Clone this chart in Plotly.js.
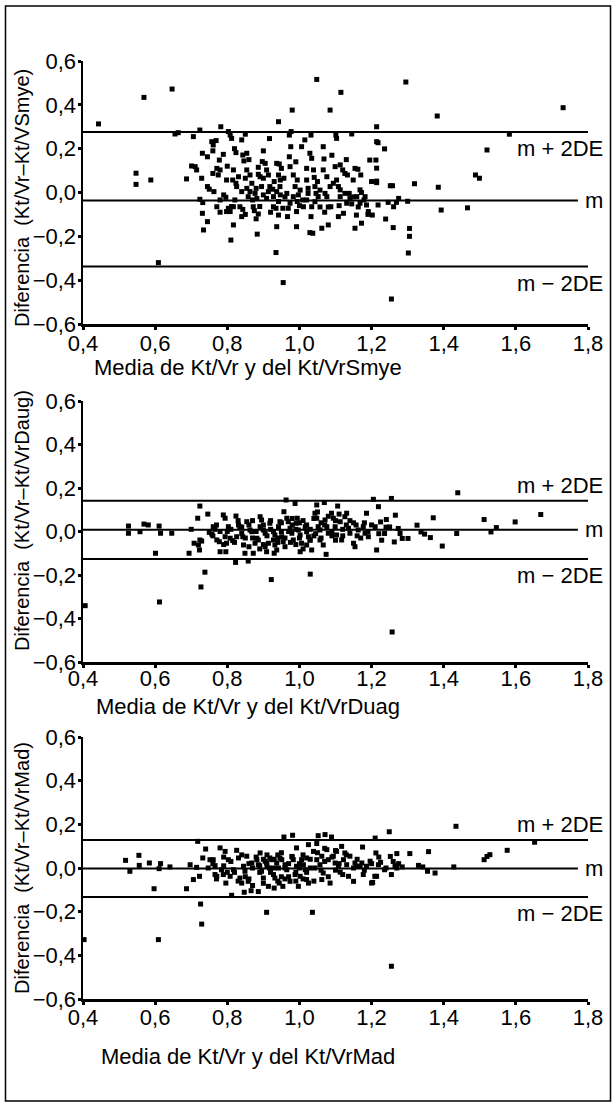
<!DOCTYPE html>
<html>
<head>
<meta charset="utf-8">
<script src="https://cdn.plot.ly/plotly-3.0.1.min.js"></script>
<style>
html,body{margin:0;padding:0;background:#fff;}
#chart{width:612px;height:1102px;}
</style>
</head>
<body>
<div id="chart"></div>
<script>
// ---------- data ----------
const xTickVals = [0.4, 0.6, 0.8, 1.0, 1.2, 1.4, 1.6, 1.8];
const xTickText = ["0,4", "0,6", "0,8", "1,0", "1,2", "1,4", "1,6", "1,8"];
const yTickVals = [-0.6, -0.4, -0.2, 0.0, 0.2, 0.4, 0.6];
const yTickText = ["\u22120,6", "\u22120,4", "\u22120,2", "0,0", "0,2", "0,4", "0,6"];

const xTitles = ["Media de Kt/Vr y del Kt/VrSmye", "Media de Kt/Vr y del Kt/VrDuag", "Media de Kt/Vr y del Kt/VrMad"];
const yTitles = ["Diferencia  (Kt/Vr\u2013Kt/VSmye)", "Diferencia  (Kt/Vr\u2013Kt/VrDaug)", "Diferencia  (Kt/Vr\u2013Kt/VrMad)"];
const lineLabels = ["m + 2DE", "m", "m \u2212 2DE"];

// [mean, mean+2DE, mean-2DE]
const smyeStats = [-0.036, 0.276, -0.338];
const daugStats = [0.008, 0.141, -0.127];
const madStats  = [-0.002, 0.128, -0.133];

const smyeX = [0.443,0.569,0.647,0.655,0.664,0.547,0.547,0.588,0.609,0.687,0.706,0.724,0.701,0.711,0.715,0.729,0.731,0.745,0.724,0.732,
0.731,0.745,0.734,0.745,0.75,0.763,0.757,0.769,0.761,0.782,0.789,0.778,0.76,0.79,0.796,0.798,0.812,0.817,0.81,0.803,
0.808,0.812,0.815,0.824,0.826,0.821,0.84,0.824,0.843,0.854,0.85,0.835,0.843,0.85,0.846,0.854,0.85,0.854,0.858,0.87,
0.872,0.875,0.883,0.886,0.89,0.886,0.886,0.891,0.88,0.895,0.897,0.905,0.909,0.9,0.914,0.917,0.909,0.918,0.926,0.928,
0.935,0.937,0.942,0.937,0.944,0.942,0.947,0.937,0.947,0.942,0.935,0.942,0.954,0.955,0.967,0.969,0.974,0.972,0.976,0.977,
0.972,0.98,0.983,0.988,0.994,0.997,0.994,0.992,0.992,1.009,1.006,1.015,1.02,1.024,1.024,1.029,1.034,1.032,1.032,1.029,
1.037,1.039,1.041,1.043,1.046,1.048,1.052,1.057,1.062,1.066,1.068,1.071,1.076,1.08,1.08,1.085,1.087,1.094,1.099,1.101,
1.103,1.108,1.113,1.108,1.115,1.113,1.12,1.122,1.126,1.133,1.138,1.14,1.145,1.145,1.149,1.154,1.162,1.154,1.158,1.163,
1.168,1.172,1.172,1.179,1.186,1.195,1.202,1.214,1.214,1.212,1.214,1.214,1.218,1.218,1.236,1.214,1.239,1.252,1.258,1.246,
1.261,1.255,1.26,1.269,1.275,1.295,1.3,1.305,1.305,1.302,1.319,1.382,1.385,1.393,1.466,1.488,1.499,1.52,1.582,1.731,
0.771,0.780,0.775,0.798,0.817,0.831,0.840,0.863,0.868,0.877,0.863,0.882,0.9,0.914,0.928,0.946,0.957,0.965,0.974,0.983,
1.002,1.011,1.02,1.034,1.043,1.057,1.066,1.076,1.085,1.103,1.113,1.126,1.131,1.159,1.168,1.182,1.191,0.803,0.808,0.817,
0.771,0.78,0.76,0.78,0.8,0.82,0.84,0.86,0.88,0.9,0.92,0.93,0.95,0.96,0.99,1.0,1.02,1.05,1.07,1.09,
1.11,1.13,1.15,1.17,1.19,1.2];
const smyeY = [0.313,0.434,0.472,0.267,0.273,0.088,0.037,0.057,-0.32,0.062,0.255,0.285,0.121,0.118,0.103,0.065,0.179,0.163,-0.031,-0.046,
-0.095,-0.133,-0.171,0.027,0.015,0.004,0.232,0.237,0.217,0.30,0.174,0.148,0.087,-0.011,-0.022,-0.087,-0.064,-0.148,-0.217,0.278,
0.262,0.247,0.057,0.042,0.027,-0.034,0.24,0.182,0.171,0.179,0.266,-0.065,-0.077,-0.1,0.144,0.103,0.065,0.019,-0.019,-0.034,
-0.065,-0.083,-0.19,-0.098,-0.064,0.115,0.083,0.072,0.019,0.027,0.141,0.133,0.103,0.065,0.08,0.246,-0.027,0.027,0.015,-0.019,
-0.274,-0.156,0.323,0.133,0.13,0.08,0.057,0.004,-0.011,-0.041,-0.072,-0.103,-0.072,-0.411,-0.11,-0.072,0.118,0.163,0.209,0.278,
0.262,0.376,0.08,0.027,0.057,-0.011,-0.041,-0.087,-0.156,-0.034,0.209,0.24,0.057,0.019,-0.004,0.179,0.156,0.262,-0.11,-0.183,
-0.186,0.103,0.069,0.027,-0.004,0.516,-0.019,-0.066,-0.163,0.209,0.153,-0.004,-0.019,-0.066,-0.148,0.376,-0.065,0.042,0.118,0.262,
0.247,0.027,0.012,-0.11,0.457,0.126,0.103,-0.095,0.087,0.08,-0.004,-0.027,-0.052,0.267,0.057,0.11,0.106,-0.163,-0.103,-0.066,
0.012,0,-0.14,-0.034,-0.057,0.148,-0.103,0.3,0.232,0.148,0.111,0.045,-0.057,0.227,0.199,0.052,-0.121,0.031,0.031,-0.045,
-0.065,-0.486,-0.16,-0.045,-0.027,0.504,-0.04,-0.164,-0.2,-0.276,0.04,0.349,0.024,-0.08,-0.07,0.08,0.065,0.194,0.266,0.387,
0.110,0.103,0.080,0.057,0.103,0.072,0.004,0.080,0.042,-0.004,0.004,-0.027,-0.011,0.004,-0.065,0.027,0.065,-0.004,-0.049,-0.019,
0.011,-0.065,-0.034,-0.065,-0.042,0.011,0.103,0.072,0.027,0.057,-0.019,-0.004,-0.049,-0.019,-0.049,-0.019,-0.087,-0.072,-0.087,-0.065,
-0.065,-0.034,0.19,-0.09,0.12,0.2,-0.11,0.15,-0.12,0.19,-0.09,0.05,0.11,-0.02,0.14,-0.06,0.11,0.05,-0.09,0.17,
-0.06,0.15,-0.02,0.08,-0.1,0.05];

const daugX = [0.526,0.526,0.558,0.569,0.581,0.601,0.611,0.615,0.646,0.694,0.7,0.708,0.72,0.723,0.724,0.724,0.729,0.718,0.746,0.75,
0.757,0.761,0.766,0.771,0.778,0.78,0.789,0.794,0.794,0.798,0.796,0.803,0.808,0.815,0.824,0.823,0.826,0.831,0.835,0.84,
0.843,0.845,0.849,0.854,0.858,0.863,0.868,0.872,0.877,0.882,0.886,0.891,0.891,0.895,0.9,0.905,0.905,0.909,0.914,0.918,
0.928,0.932,0.928,0.932,0.937,0.942,0.946,0.951,0.955,0.957,0.963,0.965,0.969,0.974,0.979,0.983,0.988,0.991,0.994,0.997,
1.002,1.002,1.006,1.016,1.02,1.02,1.025,1.029,1.034,1.043,1.048,1.048,1.052,1.057,1.057,1.066,1.069,1.071,1.076,1.08,
1.074,1.089,1.094,1.099,1.103,1.106,1.113,1.117,1.126,1.131,1.136,1.14,1.15,1.154,1.157,1.163,1.177,1.182,1.186,1.191,
1.205,1.21,1.214,1.219,1.255,1.225,1.241,1.266,1.25,1.236,1.228,1.263,1.274,1.279,1.285,1.301,1.326,1.337,1.347,1.363,
1.371,1.396,1.436,1.439,1.512,1.531,1.546,1.598,1.669,1.257,1.03,0.922,0.738,0.727,0.612,0.406,
0.78,0.81,0.86,0.87,0.9,0.92,0.95,0.96,0.98,1.01,1.03,1.04,1.06,1.09,1.1,1.12,1.15,1.17,0.99,0.94,
0.76,0.77,0.79,0.8,0.82,0.83,0.84,0.85,0.86,0.87,0.88,0.89,0.9,0.91,0.92,0.93,0.94,0.95,0.96,0.97,
0.975,0.98,0.99,1.0,1.0,1.01,1.02,1.03,1.04,1.045,1.05,1.06,1.07,1.08,1.09,1.1,1.11,1.12,1.13,1.14,
1.16,1.18,1.19,1.2,1.22,1.24];
const daugY = [0.025,-0.008,-0.001,0.034,0.030,-0.1,0.025,-0.008,-0.008,-0.1,0.01,-0.054,-0.062,-0.085,0.117,-0.039,-0.044,0.061,0.08,-0.004,
-0.012,0.022,0.01,-0.039,-0.047,-0.093,0.076,0.061,-0.024,-0.054,-0.093,0.022,-0.031,-0.042,0.071,-0.142,-0.024,0.030,0.022,-0.008,
-0.024,-0.062,-0.1,0.045,-0.136,0.007,-0.001,-0.1,-0.054,-0.031,-0.039,0.022,0.068,0.053,0.007,-0.008,-0.07,-0.093,-0.054,0.038,
-0.001,-0.016,-0.039,-0.062,-0.085,0.022,0.045,-0.024,-0.047,0.091,0.145,0.061,0.045,0.015,-0.008,-0.039,0.129,0.038,0.061,0.007,
-0.016,-0.093,-0.054,0.022,-0.001,-0.062,-0.024,-0.039,-0.085,0.084,0.122,0.061,0.022,0.007,-0.039,-0.062,0.133,0.053,0.022,-0.008,
-0.105,0.084,0.061,0.022,-0.016,0.117,0.045,-0.039,0.068,0.084,0.015,-0.008,-0.054,-0.07,0.030,0.007,0.022,-0.008,0.084,-0.024,
0.148,0.022,-0.085,0.114,0.152,0.044,0.055,0.075,0.021,-0.009,-0.04,-0.048,0.014,-0.009,-0.032,-0.032,0.029,-0.002,-0.012,-0.028,
0.063,-0.067,-0.009,0.178,0.055,-0.002,0.018,0.044,0.078,-0.462,-0.196,-0.221,-0.187,-0.255,-0.324,-0.341,
0.0,0.01,0.03,-0.03,-0.06,0.01,0.0,-0.03,0.03,0.05,0.01,-0.02,0.04,-0.02,0.05,0.01,0.04,-0.03,-0.06,-0.05,
-0.02,0.03,-0.06,0.0,-0.05,0.05,0.02,-0.03,-0.07,0.05,0.0,-0.08,0.03,-0.02,0.05,-0.1,-0.03,0.04,-0.07,0.0,
-0.05,0.06,0.01,-0.03,0.04,-0.08,0.03,-0.04,0.06,-0.01,0.09,-0.03,0.03,0.07,0.0,-0.04,0.08,-0.02,0.03,0.05,
-0.02,0.04,0.0,0.03,-0.01,0.02];

const madX = [0.518,0.53,0.555,0.556,0.584,0.597,0.609,0.611,0.615,0.641,0.687,0.697,0.706,0.718,0.715,0.723,0.726,0.729,0.732,0.74,
0.747,0.752,0.761,0.766,0.766,0.771,0.78,0.784,0.789,0.794,0.796,0.803,0.808,0.812,0.817,0.826,0.831,0.835,0.84,0.845,
0.849,0.847,0.854,0.858,0.866,0.868,0.882,0.886,0.886,0.891,0.895,0.9,0.905,0.909,0.909,0.914,0.917,0.918,0.923,0.928,
0.932,0.93,0.937,0.942,0.944,0.946,0.951,0.954,0.957,0.96,0.965,0.974,0.981,0.979,0.983,0.988,0.992,0.992,0.997,1.002,
1.006,1.011,1.016,1.02,1.025,1.025,1.02,1.036,1.039,1.043,1.048,1.048,1.052,1.057,1.062,1.062,1.066,1.071,1.076,1.08,
1.085,1.089,1.094,1.099,1.103,1.108,1.113,1.117,1.122,1.126,1.131,1.136,1.14,1.15,1.154,1.159,1.168,1.173,1.177,1.175,
1.186,1.196,1.2,1.21,1.212,1.214,1.219,1.249,1.434,1.652,1.576,1.512,1.52,1.528,1.428,1.358,1.306,1.33,1.342,1.355,
1.376,1.27,1.252,1.26,1.265,1.27,1.275,1.285,1.255,1.236,1.225,1.203,1.209,1.255,0.403,
0.87,0.89,0.91,0.93,0.95,0.97,0.99,1.0,1.01,1.03,0.86,0.82,0.79,1.07,1.1,0.96,0.9,0.94,
0.76,0.77,0.79,0.8,0.81,0.83,0.84,0.85,0.86,0.87,0.88,0.89,0.9,0.91,0.92,0.93,0.94,0.95,0.96,0.97,
0.98,0.99,1.0,1.01,1.02,1.03,1.04,1.05,1.06,1.07,1.08,1.09,1.1,1.11,1.12,1.13,1.15,1.16,1.18,1.2,
1.22,1.24];
const madY = [0.035,-0.015,0.058,0.012,0.023,-0.095,-0.328,-0.003,0.02,0.005,-0.095,0.015,-0.053,0.122,0.003,-0.038,-0.165,-0.257,0.046,0.087,
0.0,0.038,0.038,0.011,-0.03,-0.038,0.092,-0.008,-0.03,0.076,-0.069,0.038,-0.038,-0.125,-0.008,0.081,0.046,-0.046,-0.069,0.008,
-0.015,-0.111,0.054,-0.061,-0.104,0.023,0.038,0.015,-0.108,0.069,-0.015,-0.046,0.031,0.023,-0.203,-0.084,0.0,0.046,0.038,-0.03,
-0.046,-0.092,0.023,0.0,-0.069,0.046,0.038,-0.084,0.142,0.015,-0.008,-0.061,0.15,0.053,0.038,-0.03,0.092,0.008,-0.084,-0.038,
0.038,0.015,-0.008,-0.053,-0.069,0.107,0.046,-0.203,0.076,0.0,0.038,0.112,0.148,0.015,-0.053,0.054,-0.023,0.153,0.084,0.038,
-0.069,0.142,0.054,0.023,0.076,0.008,-0.019,0.099,0.038,0.069,0.015,-0.038,0.054,-0.061,0.023,0.008,0.008,0.023,-0.03,0.096,
0.008,0.031,-0.069,0.137,0.069,-0.038,0.015,0.166,0.191,0.118,0.081,0.038,0.053,0.061,0.005,0.075,0.066,0.012,0.005,-0.015,
-0.023,0.066,0.053,0.03,0.01,0.0,0.02,0.005,-0.03,-0.008,0.026,-0.066,-0.038,-0.45,-0.328,
0.0,-0.02,0.01,0.0,-0.04,0.02,-0.02,0.02,-0.05,0.0,-0.05,-0.02,0.01,0.03,-0.01,-0.05,0.04,0.06,
0.02,-0.05,0.05,-0.02,0.03,-0.06,0.06,-0.04,0.02,-0.08,0.05,0.01,-0.07,0.06,-0.02,0.04,-0.06,0.07,0.0,-0.04,
0.05,-0.06,0.0,0.06,-0.02,0.04,-0.06,0.07,-0.01,0.09,-0.04,0.05,0.08,0.02,-0.03,0.06,0.0,0.04,-0.01,0.02,
0.05,0.0];

// ---------- layout helpers ----------
const W = 612, H = 1102;
const px = v => v / W;
const py = v => 1 - v / H;
const xDom = [px(83), px(588)];
const yDoms = [[py(324), py(61)], [py(662), py(401)], [py(999), py(737)]];
const FONT = "Liberation Sans, Arial, Helvetica, sans-serif";
const INK = "#000";

const series = [[smyeX, smyeY, smyeStats], [daugX, daugY, daugStats], [madX, madY, madStats]];
const standoffs = [-5, -8, -6];
const xTitleY = [368, 706, 1056];
const yTitleY = [198, 521, 868];

const data = [];
const layout = {
  width: W, height: H,
  margin: {l: 0, r: 0, t: 0, b: 0},
  paper_bgcolor: "#fff", plot_bgcolor: "#fff",
  showlegend: false,
  font: {family: FONT, size: 22, color: INK},
  shapes: [], annotations: []
};

series.forEach((s, i) => {
  const n = i === 0 ? "" : String(i + 1);
  const xa = "x" + n, ya = "y" + n;
  data.push({
    type: "scatter", mode: "markers", x: s[0], y: s[1], xaxis: xa, yaxis: ya,
    marker: {symbol: "square", size: 5, color: INK}, hoverinfo: "skip", cliponaxis: false
  });
  layout["xaxis" + n] = {
    domain: xDom, range: [0.4, 1.8], anchor: ya,
    tickvals: xTickVals, ticktext: xTickText,
    ticks: "outside", ticklen: 3, tickwidth: 3, tickcolor: INK,
    showline: true, linewidth: 2.5, linecolor: INK,
    showgrid: false, zeroline: false, ticklabelstandoff: standoffs[i],
    tickfont: {family: FONT, size: 22, color: INK}
  };
  layout["yaxis" + n] = {
    domain: yDoms[i], range: [-0.6, 0.6], anchor: xa,
    tickvals: yTickVals, ticktext: yTickText,
    ticks: "outside", ticklen: 3, tickwidth: 3, tickcolor: INK,
    showline: true, linewidth: 2.5, linecolor: INK,
    showgrid: false, zeroline: false, ticklabelstandoff: -3,
    tickfont: {family: FONT, size: 22, color: INK}
  };
  const st = s[2];
  layout.shapes.push({type: "line", xref: xa, yref: ya, x0: 0.4, x1: 1.805, y0: st[1], y1: st[1], line: {color: INK, width: 2}});
  layout.shapes.push({type: "line", xref: xa, yref: ya, x0: 0.4, x1: 1.772, y0: st[0], y1: st[0], line: {color: INK, width: 2}});
  layout.shapes.push({type: "line", xref: xa, yref: ya, x0: 0.4, x1: 1.805, y0: st[2], y1: st[2], line: {color: INK, width: 2}});
  const upY = i === 0 ? st[1] - 0.077 : st[1] + 0.072;
  layout.annotations.push({xref: "paper", yref: ya, x: px(605), y: upY, xanchor: "right", yanchor: "middle", text: lineLabels[0], showarrow: false, font: {family: FONT, size: 22, color: INK}});
  layout.annotations.push({xref: "paper", yref: ya, x: px(605), y: st[0], xanchor: "right", yanchor: "middle", text: lineLabels[1], showarrow: false, font: {family: FONT, size: 22, color: INK}});
  layout.annotations.push({xref: "paper", yref: ya, x: px(605), y: st[2] - 0.075, xanchor: "right", yanchor: "middle", text: lineLabels[2], showarrow: false, font: {family: FONT, size: 22, color: INK}});
  layout.annotations.push({xref: "paper", yref: "paper", x: px(248), y: py(xTitleY[i]), xanchor: "center", yanchor: "middle", text: xTitles[i], showarrow: false, font: {family: FONT, size: 22, color: INK}});
  layout.annotations.push({xref: "paper", yref: "paper", x: px(22), y: py(yTitleY[i]), xanchor: "center", yanchor: "middle", textangle: -90, text: yTitles[i], showarrow: false, font: {family: FONT, size: 20, color: INK}});
});

// outer frame
layout.shapes.push({type: "rect", xref: "paper", yref: "paper", x0: px(5.5), x1: px(610.5), y0: py(1101), y1: py(6), line: {color: INK, width: 1.5}, fillcolor: "rgba(0,0,0,0)"});

Plotly.newPlot("chart", data, layout, {staticPlot: true, displayModeBar: false});
</script>
</body>
</html>
